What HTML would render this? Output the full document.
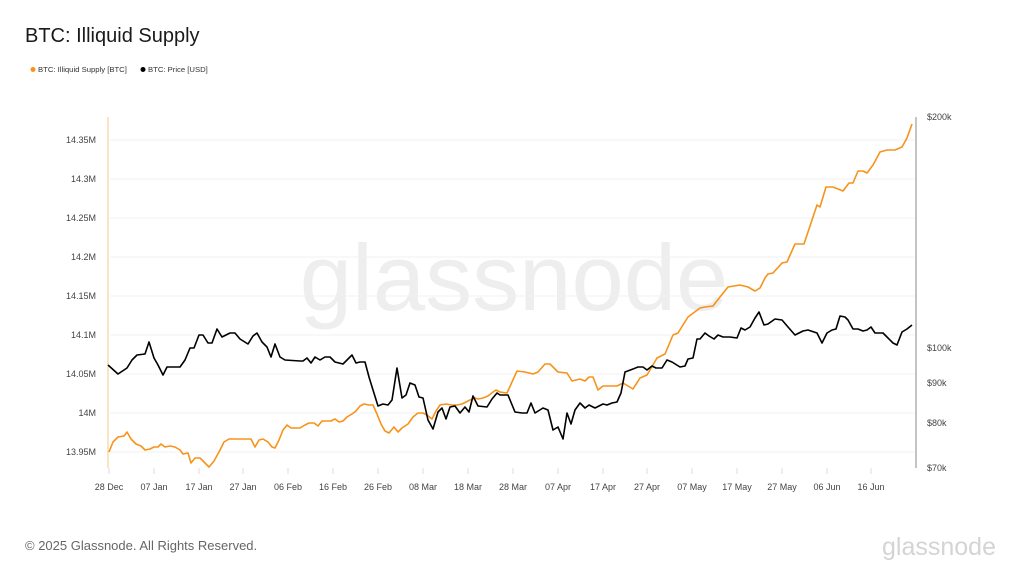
<!DOCTYPE html>
<html><head><meta charset="utf-8"><style>
html,body{margin:0;padding:0;background:#fff;width:1024px;height:576px;overflow:hidden;font-family:"Liberation Sans",sans-serif;}
</style></head><body>
<svg width="1024" height="576" viewBox="0 0 1024 576" xmlns="http://www.w3.org/2000/svg" font-family="Liberation Sans, sans-serif">
<rect width="1024" height="576" fill="#fff"/>
<text x="25" y="42" font-size="20" fill="#1a1a1a">BTC: Illiquid Supply</text>
<circle cx="33" cy="69.5" r="2.5" fill="#f7931a"/>
<text x="38" y="72" font-size="7.7" fill="#333">BTC: Illiquid Supply [BTC]</text>
<circle cx="143" cy="69.5" r="2.5" fill="#000"/>
<text x="148" y="72" font-size="7.7" fill="#333">BTC: Price [USD]</text>
<text x="514" y="310" font-size="94" fill="#eeeeee" text-anchor="middle">glassnode</text>
<g stroke="#f0f0f0" stroke-width="1">
<line x1="110" x2="915" y1="140" y2="140"/><line x1="110" x2="915" y1="179" y2="179"/><line x1="110" x2="915" y1="218" y2="218"/><line x1="110" x2="915" y1="257" y2="257"/><line x1="110" x2="915" y1="296" y2="296"/><line x1="110" x2="915" y1="335" y2="335"/><line x1="110" x2="915" y1="374" y2="374"/><line x1="110" x2="915" y1="413" y2="413"/><line x1="110" x2="915" y1="452" y2="452"/>
</g>
<line x1="108" y1="117" x2="108" y2="468" stroke="#f7c98a" stroke-width="1"/>
<line x1="916" y1="117" x2="916" y2="468" stroke="#888" stroke-width="1"/>
<g font-size="9" fill="#444" text-anchor="end">
<text x="96" y="143">14.35M</text><text x="96" y="182">14.3M</text><text x="96" y="221">14.25M</text><text x="96" y="260">14.2M</text><text x="96" y="299">14.15M</text><text x="96" y="338">14.1M</text><text x="96" y="377">14.05M</text><text x="96" y="416">14M</text><text x="96" y="455">13.95M</text>
</g>
<g font-size="9" fill="#444">
<text x="927" y="120">$200k</text><text x="927" y="351">$100k</text><text x="927" y="386">$90k</text><text x="927" y="426">$80k</text><text x="927" y="471">$70k</text>
</g>
<g stroke="#ddd" stroke-width="1">
<line x1="109" x2="109" y1="468" y2="474"/><line x1="154" x2="154" y1="468" y2="474"/><line x1="199" x2="199" y1="468" y2="474"/><line x1="243" x2="243" y1="468" y2="474"/><line x1="288" x2="288" y1="468" y2="474"/><line x1="333" x2="333" y1="468" y2="474"/><line x1="378" x2="378" y1="468" y2="474"/><line x1="423" x2="423" y1="468" y2="474"/><line x1="468" x2="468" y1="468" y2="474"/><line x1="513" x2="513" y1="468" y2="474"/><line x1="558" x2="558" y1="468" y2="474"/><line x1="603" x2="603" y1="468" y2="474"/><line x1="647" x2="647" y1="468" y2="474"/><line x1="692" x2="692" y1="468" y2="474"/><line x1="737" x2="737" y1="468" y2="474"/><line x1="782" x2="782" y1="468" y2="474"/><line x1="827" x2="827" y1="468" y2="474"/><line x1="871" x2="871" y1="468" y2="474"/>
</g>
<g font-size="9" fill="#444" text-anchor="middle">
<text x="109" y="490">28 Dec</text><text x="154" y="490">07 Jan</text><text x="199" y="490">17 Jan</text><text x="243" y="490">27 Jan</text><text x="288" y="490">06 Feb</text><text x="333" y="490">16 Feb</text><text x="378" y="490">26 Feb</text><text x="423" y="490">08 Mar</text><text x="468" y="490">18 Mar</text><text x="513" y="490">28 Mar</text><text x="558" y="490">07 Apr</text><text x="603" y="490">17 Apr</text><text x="647" y="490">27 Apr</text><text x="692" y="490">07 May</text><text x="737" y="490">17 May</text><text x="782" y="490">27 May</text><text x="827" y="490">06 Jun</text><text x="871" y="490">16 Jun</text>
</g>
<polyline fill="none" stroke="#f7931a" stroke-width="1.6" stroke-linejoin="round" points="109,452 113,442 118,437 124,436 127,432 131,439 136,444 141,446 145,450 150,449 154,447 158,447 161,444 165,447 170,446 175,447 180,450 183,454 188,453 191,463 195,458 200,458 204,462 209,467 214,461 219,452 224,442 229,439 234,439 238,439 242,439 247,439 251,439 255,447 259,440 263,439 268,442 272,447 275,448 279,440 283,430 287,425 291,428 296,428 300,428 305,425 309,423 314,423 318,426 322,421 327,421 331,421 335,419 339,422 343,421 347,417 352,414 356,411 360,406 364,404 369,405 373,405 377,414 381,424 385,431 389,433 394,427 398,432 402,428 408,424 413,417 418,413 423,413 427,415 432,419 436,411 440,405 446,404 452,405 457,405 462,404 466,402 470,400 475,398 478,399 483,398 488,396 493,392 496,390 500,392 507,393 517,371 525,372 533,374 538,372 545,364 550,364 558,372 567,373 572,381 580,379 585,381 589,377 593,377 598,390 603,386 617,386 623,383 633,389 640,378 647,375 657,358 665,354 673,335 678,333 688,317 700,308 705,307 713,306 720,297 728,287 740,285 748,287 755,291 760,288 765,278 768,274 773,273 782,263 787,262 795,244 804,244 817,205 820,207 826,187 833,187 843,191 849,183 853,183 858,171 863,171 867,173 873,165 880,152 887,150 895,150 902,147 907,138 912,124"/>
<polyline fill="none" stroke="#000" stroke-width="1.6" stroke-linejoin="round" points="108,365 118,374 127,368 132,360 137,355 145,354 149,342 154,358 158,365 163,375 167,367 180,367 185,360 190,348 194,348 199,335 203,335 208,343 212,343 217,329 222,337 230,333 235,333 240,339 248,344 253,336 257,333 262,342 267,347 271,357 275,344 280,357 285,360 300,361 303,361 307,358 311,363 315,357 320,360 325,357 330,357 335,362 343,364 352,355 356,363 360,362 365,362 369,377 373,390 378,406 383,404 388,405 392,400 397,368 402,398 406,395 410,383 415,385 419,397 423,398 428,420 433,429 438,412 442,408 446,419 450,407 455,406 460,413 465,407 469,412 473,396 478,406 487,407 492,399 497,393 500,395 508,395 515,412 522,413 527,413 531,403 535,413 543,408 548,410 553,430 558,427 563,439 567,413 571,424 575,410 580,403 585,408 589,405 595,408 603,404 607,405 612,403 617,402 621,393 625,372 633,369 638,367 643,367 647,370 652,366 656,368 662,368 667,360 672,362 680,367 685,366 688,359 693,358 697,339 700,339 705,333 709,336 714,339 718,335 723,337 730,337 737,338 741,328 745,330 750,327 755,318 759,312 764,325 768,324 775,319 782,320 788,327 795,335 803,331 808,330 817,333 822,343 827,333 832,330 836,329 840,316 845,317 848,320 853,329 858,329 863,331 867,330 871,327 875,333 883,333 887,337 893,343 897,345 902,332 907,329 912,325"/>
<text x="25" y="550" font-size="13" fill="#666">© 2025 Glassnode. All Rights Reserved.</text>
<text x="996" y="555" font-size="25" fill="#d4d4d4" text-anchor="end">glassnode</text>
</svg>
</body></html>
